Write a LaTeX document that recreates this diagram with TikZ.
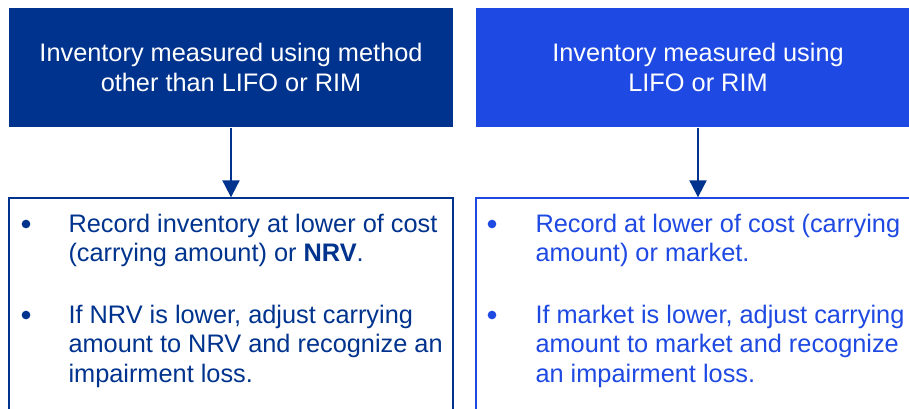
\documentclass[tikz,border=0pt]{standalone}
\usepackage{fontspec}
\setmainfont{Liberation Sans}
\usetikzlibrary{arrows.meta, positioning}
\definecolor{kpmgblue}{HTML}{00338D}
\definecolor{cobalt}{HTML}{1E49E2}

\begin{document}
\begin{tikzpicture}[x=0.75pt, y=-0.75pt, thick, >={Triangle[width=12.75pt,length=12.75pt]}]

		% Define block styles
		\tikzstyle{head} = [rectangle, minimum width=333pt, minimum height=89.25pt, text=white, align=center, font=\fontsize{19}{22.5}\selectfont, inner sep=0pt]
		\tikzstyle{rulebox} = [rectangle, draw, line width=1pt, fill=white, minimum width=333pt, minimum height=181.5pt, inner sep=0pt]
		\tikzstyle{item} = [align=left, font=\fontsize{19}{22}\selectfont, inner sep=0pt, anchor=north west]
		\tikzstyle{dot} = [circle, minimum size=6.5pt, inner sep=0pt]

		\useasboundingbox (0,0) rectangle (909,408);
		\clip (0,0) rectangle (909,408);

		% Nodes
		\node[head, fill=kpmgblue] (other) at (231,67.5) {Inventory measured using method\\other than LIFO or RIM};
		\node[head, fill=cobalt] (lifo) at (698,67.5) {Inventory measured using\\LIFO or RIM};
		\node[rulebox, draw=kpmgblue] (otherRule) at (231,319) {};
		\node[rulebox, draw=cobalt] (lifoRule) at (698,319) {};

		% Rule texts
		\node[dot, fill=kpmgblue] (otherDotA) at (26,224) {};
		\node[item, text=kpmgblue] (otherA) at (68,213.5) {Record inventory at lower of cost\\(carrying amount) or \textbf{NRV}.};
		\node[dot, fill=kpmgblue] (otherDotB) at (26,315) {};
		\node[item, text=kpmgblue] (otherB) at (68,304.5) {If NRV is lower, adjust carrying\\amount to NRV and recognize an\\impairment loss.};

		\node[dot, fill=cobalt] (lifoDotA) at (492,224) {};
		\node[item, text=cobalt] (lifoA) at (535,213.5) {Record at lower of cost (carrying\\amount) or market.};
		\node[dot, fill=cobalt] (lifoDotB) at (492,315) {};
		\node[item, text=cobalt] (lifoB) at (535,304.5) {If market is lower, adjust carrying\\amount to market and recognize\\an impairment loss.};

		% Arrows
		\draw[->, kpmgblue, line width=1.5pt] (other) -- (otherRule);
		\draw[->, kpmgblue, line width=1.5pt] (lifo) -- (lifoRule);

	\end{tikzpicture}
\end{document}
